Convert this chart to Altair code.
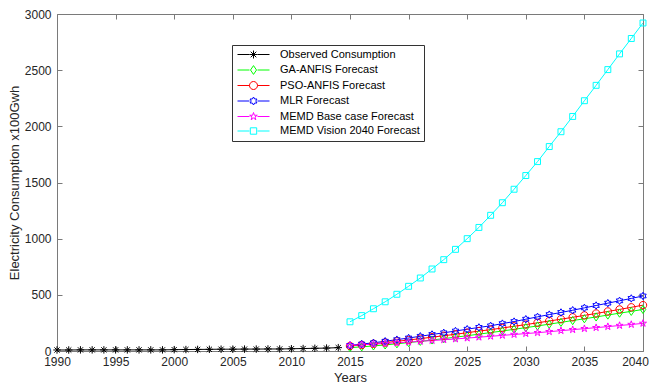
import altair as alt
import pandas as pd

# ---------------- data ----------------
obs_years = list(range(1990, 2015))
observed = [9, 9, 10, 10, 10, 10, 10, 10, 10, 10, 12, 13, 14, 15, 16, 16, 17, 17,
            18, 18, 20, 22, 24, 26, 30]

fc_years = list(range(2015, 2041))
ga_anfis = [30, 37, 45, 54, 64, 75, 86, 98, 110, 123, 136, 150, 164, 178, 193, 208,
            223, 239, 255, 271, 287, 303, 320, 337, 353, 370]
pso_anfis = [45, 54, 64, 75, 86, 98, 110, 123, 136, 149, 163, 177, 190, 205, 220, 235,
             251, 267, 283, 300, 317, 334, 352, 370, 389, 408]
mlr = [50, 62, 73, 87, 101, 116, 131, 147, 162, 178, 194, 210, 224, 244, 262, 283,
       304, 324, 343, 363, 384, 405, 426, 447, 468, 490]
memd_base = [50, 55, 61, 67, 73, 79, 86, 93, 100, 107, 115, 123, 131, 139, 147, 155,
             163, 172, 181, 190, 199, 208, 217, 227, 236, 246]
memd_vision = [260, 315, 376, 438, 505, 576, 650, 730, 813, 905, 1000, 1100, 1208,
               1320, 1440, 1562, 1686, 1820, 1952, 2088, 2228, 2365, 2505, 2645,
               2782, 2920]

series_names = ["Observed Consumption", "GA-ANFIS Forecast", "PSO-ANFIS Forecast",
                "MLR Forecast", "MEMD Base case Forecast", "MEMD Vision 2040 Forecast"]
series_colors = ["#000000", "#00ff00", "#ff0000", "#0000ff", "#ff00ff", "#00ffff"]

x_ticks = [1990, 1995, 2000, 2005, 2010, 2015, 2020, 2025, 2030, 2035, 2040]
y_ticks = [0, 500, 1000, 1500, 2000, 2500, 3000]

rows = []
for yr, v in zip(obs_years, observed):
    rows.append({"year": yr, "value": v, "series": series_names[0]})
for name, vals in zip(series_names[1:], [ga_anfis, pso_anfis, mlr, memd_base, memd_vision]):
    for yr, v in zip(fc_years, vals):
        rows.append({"year": yr, "value": v, "series": name})
df = pd.DataFrame(rows)

# ---------------- marker shapes (style) ----------------
def poly(points, dx=0.0):
    return "M" + "L".join(f"{x + dx:.3f},{y:.3f}" for x, y in points) + "Z"

asterisk_segs = [((-1, 0), (1, 0)), ((0, -1), (0, 1)),
                 ((-0.7, -0.7), (0.7, 0.7)), ((-0.7, 0.7), (0.7, -0.7))]
diamond_pts = [(0, -1.1), (0.75, 0), (0, 1.1), (-0.75, 0)]
hexagram_pts = [(0, -1), (0.289, -0.5), (0.866, -0.5), (0.577, 0), (0.866, 0.5),
                (0.289, 0.5), (0, 1), (-0.289, 0.5), (-0.866, 0.5), (-0.577, 0),
                (-0.866, -0.5), (-0.289, -0.5)]
pentagram_pts = [(0, -1), (0.225, -0.309), (0.951, -0.309), (0.363, 0.118),
                 (0.588, 0.809), (0, 0.382), (-0.588, 0.809), (-0.363, 0.118),
                 (-0.951, -0.309), (-0.225, -0.309)]
square_pts = [(-0.8, -0.8), (0.8, -0.8), (0.8, 0.8), (-0.8, 0.8)]


def asterisk(dx=0.0):
    return "".join(f"M{a[0] + dx},{a[1]}L{b[0] + dx},{b[1]}" for a, b in asterisk_segs)


def circle(dx=0.0):
    return f"M{1 + dx},0A1,1,0,1,1,{-1 + dx},0A1,1,0,1,1,{1 + dx},0Z"


def marker_paths(dx=0.0):
    return [asterisk(dx), poly(diamond_pts, dx), circle(dx), poly(hexagram_pts, dx),
            poly(pentagram_pts, dx), poly(square_pts, dx)]


plot_shapes = marker_paths(0.0)
legend_shapes = ["M-1,0L2,0M4,0L7,0" + p for p in marker_paths(3.0)]

# ---------------- chart ----------------
W, H = 586, 337
gray = "#7a7a7a"
font = "Liberation Sans"

x_scale = alt.Scale(domain=[1990, 2040], nice=False, zero=False)
y_scale = alt.Scale(domain=[0, 3000], nice=False)
color_scale = alt.Scale(domain=series_names, range=series_colors)

base = alt.Chart(df)

lines = base.mark_line(strokeWidth=1, clip=True).encode(
    x=alt.X("year:Q", scale=x_scale,
            axis=alt.Axis(values=x_ticks, format="d", title="Years", ticks=False,
                          grid=False, domainColor=gray, labelPadding=5,
                          labelFontSize=12, labelFont=font, labelColor="#262626",
                          labelOffset={"expr": "datum.value == 2040 ? -8 : 0"},
                          titleFont=font, titleFontSize=13, titleFontWeight="normal",
                          titleColor="#262626", titlePadding=4, labelFlush=False)),
    y=alt.Y("value:Q", scale=y_scale,
            axis=alt.Axis(values=y_ticks, format="d",
                          title="Electricity Consumption x100Gwh",
                          ticks=False, grid=False, domainColor=gray, labelPadding=6,
                          labelFontSize=12, labelFont=font, labelColor="#262626",
                          titleFont=font, titleFontSize=13, titleFontWeight="normal",
                          titleColor="#262626", titlePadding=3)),
    color=alt.Color("series:N", scale=color_scale, legend=None),
    detail="series:N",
)

points = base.mark_point(filled=False, strokeWidth=1, size=55, opacity=1).encode(
    x=alt.X("year:Q", scale=x_scale,
            axis=alt.Axis(orient="top", offset=-H, values=x_ticks, labels=False,
                          title=None, grid=False, domain=False, tickSize=5,
                          tickColor=gray)),
    y=alt.Y("value:Q", scale=y_scale,
            axis=alt.Axis(orient="right", offset=-W, values=y_ticks, labels=False,
                          title=None, grid=False, domain=False, tickSize=5,
                          tickColor=gray)),
    color=alt.Color("series:N", scale=color_scale, legend=None),
    shape=alt.Shape("series:N", scale=alt.Scale(domain=series_names, range=plot_shapes),
                    legend=None),
)

legend_opts = dict(title=None, orient="none", legendX=175, legendY=31,
                   padding=4, strokeColor="#333333", fillColor="white",
                   symbolSize=64, symbolStrokeWidth=1, symbolOpacity=1,
                   labelFontSize=11, labelFont=font, labelColor="#000000",
                   labelOffset=33, rowPadding=2.5, symbolLimit=0)

legend_layer = base.mark_point(filled=False, strokeWidth=1, size=64, opacity=0).encode(
    x=alt.X("year:Q", scale=x_scale,
            axis=alt.Axis(orient="bottom", offset=-H, values=x_ticks, labels=False,
                          title=None, grid=False, domain=True, domainColor=gray,
                          tickSize=5, tickColor=gray)),
    y=alt.Y("value:Q", scale=y_scale,
            axis=alt.Axis(orient="left", offset=-W, values=y_ticks, labels=False,
                          title=None, grid=False, domain=True, domainColor=gray,
                          tickSize=5, tickColor=gray)),
    color=alt.Color("series:N", scale=color_scale, legend=alt.Legend(**legend_opts)),
    shape=alt.Shape("series:N", scale=alt.Scale(domain=series_names, range=legend_shapes),
                    legend=alt.Legend(**legend_opts)),
)

chart = alt.layer(lines, points, legend_layer).resolve_scale(
    color="independent", shape="independent"
).resolve_axis(
    x="independent", y="independent"
).properties(
    width=W, height=H,
    padding={"left": 49, "top": 6, "right": 6, "bottom": 44},
    autosize=alt.AutoSizeParams(type="none"),
    background="white",
).configure_view(stroke=None)

chart.save("out.html", embed_options={"renderer": "svg", "actions": False})
